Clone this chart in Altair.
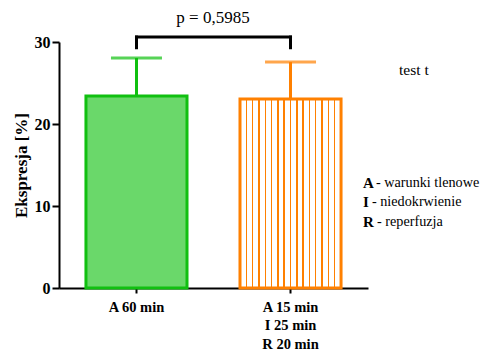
import altair as alt
import pandas as pd

# ---- data ----
categories = ["A 60 min", "A 15 min\nI 25 min\nR 20 min"]
means = [23.4, 23.05]
errors = [4.65, 4.5]
bracket_top = 30.6
bracket_bottom = 29.3
p_label = "p = 0,5985"
test_label = "test t"
legend_letters = ["A", "I", "R"]
legend_texts = ["- warunki tlenowe", "- niedokrwienie", "- reperfuzja"]

GREEN = "#10c010"
ORANGE = "#ff8000"
FONT = "Liberation Serif"

df = pd.DataFrame({"cat": categories, "mean": means, "err": errors})
df["upper"] = df["mean"] + df["err"]

xscale = alt.Scale(domain=categories, paddingInner=0.344, paddingOuter=0.175)
yscale = alt.Scale(domain=[0, 30])
colscale = alt.Scale(domain=categories, range=[GREEN, ORANGE])

x = alt.X("cat:N", scale=xscale, sort=categories,
          axis=alt.Axis(title=None, labelAngle=0, labelExpr="split(datum.value, '\\n')",
                        labelLineHeight=18.5, tickSize=5, labelPadding=7, labelFontSize=14.5,
                        domainWidth=2, tickWidth=2))
y = alt.Y("mean:Q", scale=yscale,
          axis=alt.Axis(title="Ekspresja [%]", values=[0, 10, 20, 30], tickSize=7,
                        labelPadding=2, domainWidth=2, tickWidth=2, titlePadding=4))

# stripe gradient for orange bar
n_stripes = 16
stops = []
w = 0.007
for k in range(n_stripes + 1):
    c = k / n_stripes
    a, b = max(0.0, c - w), min(1.0, c + w)
    stops += [{"offset": a, "color": "white"}, {"offset": a, "color": ORANGE},
              {"offset": b, "color": ORANGE}, {"offset": b, "color": "white"}]
orange_fill = {"gradient": "linear", "x1": 0, "x2": 1, "y1": 0, "y2": 0, "stops": stops}

xs = alt.X("cat:N", scale=xscale, sort=categories)

base = alt.Chart(df)
bar_green = base.transform_filter(alt.datum.cat == categories[0]).mark_bar(
    fill="#6ad86a", stroke=GREEN, strokeWidth=3).encode(x=x, y=y)
bar_orange = base.transform_filter(alt.datum.cat == categories[1]).mark_bar(
    fill=orange_fill, stroke=ORANGE, strokeWidth=3).encode(x=x, y=y)
stem = base.mark_rule(strokeWidth=3).encode(
    x=xs, y="mean:Q", y2="upper:Q",
    color=alt.Color("cat:N", scale=colscale, legend=None))
cap = base.mark_tick(size=51, thickness=3).encode(
    x=xs, y=alt.Y("upper:Q"),
    color=alt.Color("cat:N", scale=colscale, legend=None))

br_h = alt.Chart(pd.DataFrame({"cat": [categories[0]], "b": [categories[1]], "mean": [bracket_top]})).mark_rule(
    strokeWidth=3, color="black", strokeCap="square").encode(
    x=xs, x2="b:N", y="mean:Q")
br_v = alt.Chart(pd.DataFrame({"cat": categories, "mean": [bracket_bottom] * 2, "y2": [bracket_top] * 2})).mark_rule(
    strokeWidth=3, color="black", strokeCap="square").encode(
    x=xs, y="mean:Q", y2="y2:Q")

p_text = alt.Chart(pd.DataFrame({"t": [p_label]})).mark_text(
    font=FONT, fontSize=17, align="center", baseline="middle", color="black").encode(
    x=alt.value(154), y=alt.value(-24), text="t:N")
t_text = alt.Chart(pd.DataFrame({"t": [test_label]})).mark_text(
    font=FONT, fontSize=15.5, align="left", baseline="middle", color="black").encode(
    x=alt.value(340), y=alt.value(28), text="t:N")

layers = [bar_green, bar_orange, stem, cap, br_h, br_v, p_text, t_text]
leg_y = [141, 160, 180]
leg_dx = [13, 9, 14]
for letter, txt, yy, dx in zip(legend_letters, legend_texts, leg_y, leg_dx):
    d = pd.DataFrame({"l": [letter], "t": [txt]})
    layers.append(alt.Chart(d).mark_text(font=FONT, fontSize=15, fontWeight="bold", align="left",
                                         baseline="middle", color="black").encode(
        x=alt.value(304), y=alt.value(yy), text="l:N"))
    layers.append(alt.Chart(d).mark_text(font=FONT, fontSize=14.2, align="left",
                                         baseline="middle", color="black").encode(
        x=alt.value(304 + dx), y=alt.value(yy), text="t:N"))

chart = alt.layer(*layers).properties(
    width=309, height=246,
    padding={"left": 51, "top": 34, "right": 115, "bottom": 64},
    autosize=alt.AutoSizeParams(type="none"),
).configure_view(stroke=None).configure_axis(
    grid=False, labelFont=FONT, labelFontWeight="bold", labelFontSize=16, labelColor="black",
    titleFont=FONT, titleFontWeight="bold", titleFontSize=17, titleColor="black",
    domainColor="black", tickColor="black"
)

chart.save("out.html", embed_options={"renderer": "svg", "actions": False})
